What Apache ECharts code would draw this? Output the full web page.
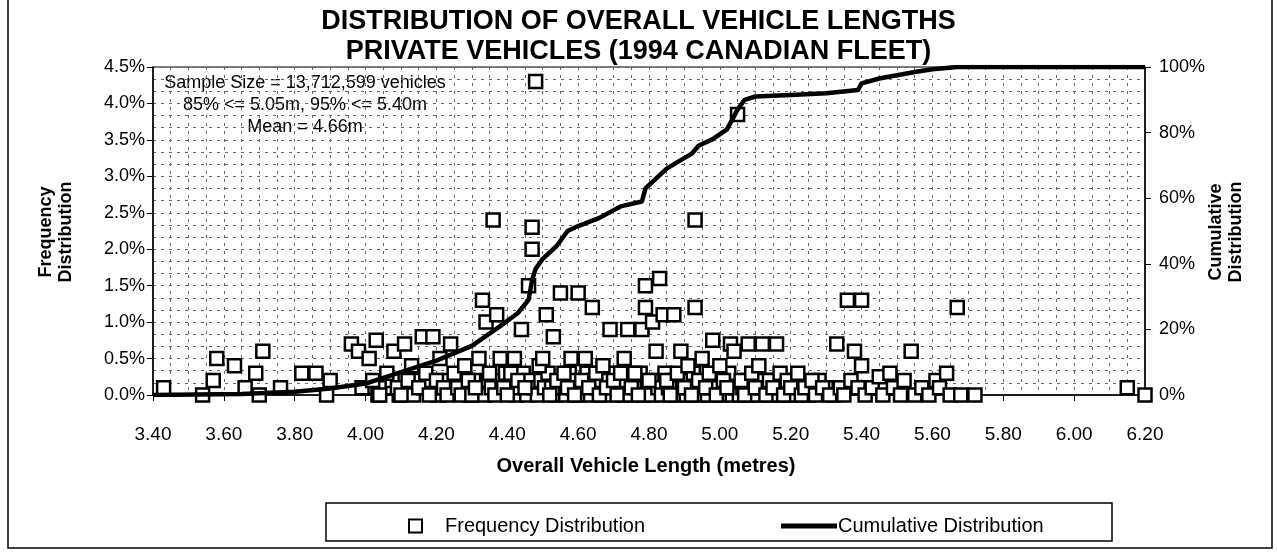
<!DOCTYPE html>
<html>
<head>
<meta charset="utf-8">
<script src="https://cdn.jsdelivr.net/npm/echarts@6/dist/echarts.min.js"></script>
<style>
  html, body { margin: 0; background: #fff; }
  #main { width: 1277px; height: 552px; }
</style>
</head>
<body>
<div id="main"></div>
<script>
// frequency distribution, [length (m), share of fleet (%)]
const freqLow = [
  [4.005, 0.1], [4.035, 0.0], [4.055, 0.1], [4.075, 0.2], [4.095, 0.0], [4.115, 0.1], [4.135, 0.0], [4.145, 0.2],
  [4.165, 0.1], [4.185, 0.2], [4.205, 0.0], [4.215, 0.1], [4.235, 0.2], [4.245, 0.1], [4.265, 0.2], [4.285, 0.1],
  [4.295, 0.0], [4.305, 0.2], [4.325, 0.1], [4.335, 0.0], [4.345, 0.2], [4.355, 0.1], [4.365, 0.0], [4.385, 0.2],
  [4.395, 0.3], [4.405, 0.1], [4.415, 0.2], [4.425, 0.0], [4.435, 0.1], [4.445, 0.3], [4.455, 0.0], [4.465, 0.2],
  [4.475, 0.1], [4.485, 0.0], [4.495, 0.2], [4.505, 0.1], [4.515, 0.3], [4.525, 0.1], [4.535, 0.0], [4.545, 0.1],
  [4.555, 0.2], [4.565, 0.0], [4.575, 0.3], [4.585, 0.1], [4.595, 0.2], [4.605, 0.0], [4.615, 0.1], [4.625, 0.3],
  [4.635, 0.0], [4.645, 0.2], [4.655, 0.1], [4.665, 0.2], [4.675, 0.0], [4.685, 0.2], [4.695, 0.1], [4.705, 0.3],
  [4.715, 0.1], [4.725, 0.0], [4.735, 0.2], [4.745, 0.0], [4.755, 0.2], [4.765, 0.1], [4.775, 0.3], [4.785, 0.0],
  [4.795, 0.1], [4.805, 0.0], [4.815, 0.2], [4.825, 0.1], [4.835, 0.0], [4.845, 0.3], [4.855, 0.1], [4.865, 0.2],
  [4.875, 0.0], [4.885, 0.1], [4.895, 0.2], [4.905, 0.0], [4.915, 0.1], [4.925, 0.3], [4.935, 0.1], [4.945, 0.0],
  [4.955, 0.2], [4.965, 0.0], [4.975, 0.1], [4.985, 0.2], [4.995, 0.1], [5.005, 0.0], [5.015, 0.1], [5.025, 0.3],
  [5.035, 0.0], [5.045, 0.1], [5.055, 0.0], [5.065, 0.1], [5.075, 0.2], [5.085, 0.0], [5.095, 0.2], [5.105, 0.0],
  [5.115, 0.1], [5.125, 0.2], [5.135, 0.1], [5.145, 0.0], [5.155, 0.2], [5.165, 0.0], [5.175, 0.1], [5.185, 0.2],
  [5.195, 0.0], [5.21, 0.0], [5.25, 0.0], [5.28, 0.2], [5.30, 0.1], [5.32, 0.0]
];

const freqUpper = [
  [3.43, 0.10], [3.54, 0.00], [3.57, 0.20], [3.58, 0.50], [3.63, 0.40], [3.66, 0.10], [3.69, 0.30], [3.70, 0.00],
  [3.71, 0.60], [3.76, 0.10], [3.82, 0.30], [3.86, 0.30], [3.89, 0.00], [3.90, 0.20], [3.96, 0.70], [3.98, 0.60],
  [3.99, 0.10], [4.01, 0.50], [4.02, 0.20], [4.03, 0.75], [4.04, 0.00], [4.06, 0.30], [4.08, 0.60], [4.09, 0.10],
  [4.10, 0.00], [4.11, 0.70], [4.12, 0.20], [4.13, 0.40], [4.15, 0.10], [4.16, 0.80], [4.17, 0.30], [4.18, 0.00],
  [4.19, 0.80], [4.20, 0.20], [4.21, 0.50], [4.22, 0.10], [4.23, 0.00], [4.24, 0.70], [4.25, 0.30], [4.26, 0.10],
  [4.27, 0.00], [4.28, 0.40], [4.29, 0.20], [4.30, 0.00], [4.31, 0.10], [4.32, 0.50], [4.33, 1.30], [4.34, 1.00],
  [4.35, 0.30], [4.36, 2.40], [4.37, 1.10], [4.38, 0.50], [4.39, 0.10], [4.40, 0.00], [4.41, 0.30], [4.42, 0.50],
  [4.43, 0.20], [4.44, 0.90], [4.45, 0.10], [4.46, 1.50], [4.47, 2.30], [4.47, 2.00], [4.48, 4.30], [4.49, 0.40],
  [4.50, 0.50], [4.51, 1.10], [4.52, 0.00], [4.53, 0.80], [4.54, 0.20], [4.55, 1.40], [4.56, 0.30], [4.57, 0.10],
  [4.58, 0.50], [4.59, 0.00], [4.60, 1.40], [4.61, 0.20], [4.62, 0.50], [4.63, 0.10], [4.64, 1.20], [4.65, 0.30],
  [4.66, 0.00], [4.67, 0.40], [4.68, 0.10], [4.69, 0.90], [4.70, 0.20], [4.71, 0.00], [4.72, 0.30], [4.73, 0.50],
  [4.74, 0.90], [4.75, 0.10], [4.76, 0.30], [4.77, 0.00], [4.78, 0.90], [4.79, 1.50], [4.79, 1.20], [4.80, 0.20],
  [4.81, 1.00], [4.82, 0.60], [4.83, 1.60], [4.84, 1.10], [4.85, 0.20], [4.86, 0.00], [4.87, 1.10], [4.88, 0.30],
  [4.89, 0.60], [4.90, 0.10], [4.91, 0.40], [4.92, 0.00], [4.93, 2.40], [4.93, 1.20], [4.94, 0.20], [4.95, 0.50],
  [4.96, 0.10], [4.97, 0.30], [4.98, 0.75], [4.99, 0.00], [5.00, 0.40], [5.01, 0.20], [5.02, 0.10], [5.03, 0.70],
  [5.04, 0.60], [5.05, 3.85], [5.06, 0.20], [5.07, 0.00], [5.08, 0.70], [5.09, 0.30], [5.10, 0.10], [5.11, 0.40],
  [5.12, 0.70], [5.13, 0.00], [5.14, 0.20], [5.15, 0.10], [5.16, 0.70], [5.17, 0.30], [5.18, 0.00], [5.19, 0.20],
  [5.20, 0.10], [5.22, 0.30], [5.23, 0.00], [5.24, 0.10], [5.26, 0.20], [5.27, 0.00], [5.29, 0.10], [5.31, 0.00],
  [5.33, 0.70], [5.34, 0.10], [5.35, 0.00], [5.36, 1.30], [5.37, 0.20], [5.38, 0.60], [5.39, 0.10], [5.40, 1.30],
  [5.40, 0.40], [5.41, 0.00], [5.43, 0.10], [5.45, 0.25], [5.46, 0.00], [5.48, 0.30], [5.49, 0.10], [5.51, 0.00],
  [5.52, 0.20], [5.54, 0.60], [5.55, 0.00], [5.57, 0.10], [5.59, 0.00], [5.61, 0.20], [5.62, 0.10], [5.64, 0.30],
  [5.65, 0.00], [5.67, 1.20], [5.68, 0.00], [5.72, 0.00], [6.15, 0.10], [6.20, 0.00]
];

// cumulative distribution
const cumLength = [3.40, 3.65, 3.80, 3.90, 4.00, 4.10, 4.20, 4.30, 4.38, 4.43, 4.46, 4.47, 4.48, 4.50, 4.54, 4.57,
  4.60, 4.66, 4.72, 4.78, 4.79, 4.85, 4.88, 4.92, 4.94, 4.98, 5.02, 5.05, 5.07, 5.10, 5.20, 5.30, 5.39, 5.40, 5.45,
  5.50, 5.55, 5.60, 5.67, 6.20];
const cumPct = [0, 0.3, 1, 2, 3.5, 7, 10.5, 15, 21, 25, 29, 35, 38.5, 41.5, 45.5, 50,
  51.5, 54, 57.5, 59, 63, 69, 71, 73.5, 76, 78, 81, 87, 90, 91, 91.5, 92, 93, 95, 96.5,
  97.5, 98.5, 99.3, 100, 100];

const noteLines = ['Sample Size = 13,712,599 vehicles', '85% <= 5.05m, 95% <= 5.40m', 'Mean = 4.66m'];

const chart = echarts.init(document.getElementById('main'));
const font = 'Liberation Sans, Arial, sans-serif';
const gridDash = { color: '#666', width: 1, type: [3, 5] };

const option = {
  animation: false,
  backgroundColor: '#fff',
  textStyle: { fontFamily: font, color: '#000' },
  title: {
    text: 'DISTRIBUTION OF OVERALL VEHICLE LENGTHS\nPRIVATE VEHICLES (1994 CANADIAN FLEET)',
    left: 'center',
    top: 2,
    textStyle: { fontSize: 27, fontWeight: 'bold', lineHeight: 30, color: '#000', fontFamily: font }
  },
  legend: [
    {
      data: ['Frequency Distribution'],
      left: 403, top: 511,
      itemWidth: 13, itemHeight: 13,
      textStyle: { fontSize: 20, color: '#000', padding: [0, 0, 0, 18] }
    },
    {
      data: [{ name: 'Cumulative Distribution', icon: 'rect' }],
      left: 776, top: 511,
      itemWidth: 56, itemHeight: 5, itemGap: 0,
      itemStyle: { color: '#000' },
      textStyle: { fontSize: 20, color: '#000', padding: [0, 0, 0, -4] }
    }
  ],
  grid: { left: 153, right: 132, top: 67, bottom: 157, show: true, borderColor: '#000', borderWidth: 1 },
  xAxis: {
    type: 'value', min: 3.4, max: 6.2, interval: 0.2,
    axisLine: { lineStyle: { color: '#000', width: 1.5 } },
    axisTick: { inside: false, length: 6, lineStyle: { color: '#000' } },
    axisLabel: { fontSize: 19, color: '#000', margin: 30, formatter: v => v.toFixed(2) },
    splitLine: { show: true, lineStyle: gridDash },
    minorTick: { show: false, splitNumber: 4 },
    minorSplitLine: { show: true, lineStyle: gridDash }
  },
  yAxis: [
    {
      type: 'value', min: 0, max: 4.5, interval: 0.5,
      axisLine: { show: true, lineStyle: { color: '#000', width: 1.5 } },
      axisTick: { show: true, length: 6, lineStyle: { color: '#000' } },
      axisLabel: { fontSize: 18, color: '#000', margin: 8, formatter: v => v.toFixed(1) + '%' },
      splitLine: { show: true, lineStyle: gridDash },
      minorTick: { show: false, splitNumber: 3 },
      minorSplitLine: { show: true, lineStyle: gridDash }
    },
    {
      type: 'value', min: 0, max: 100, interval: 20,
      axisLine: { show: true, lineStyle: { color: '#000', width: 1.5 } },
      axisTick: { show: true, length: 6, lineStyle: { color: '#000' } },
      axisLabel: { fontSize: 18, color: '#000', margin: 14, formatter: v => v + '%' },
      splitLine: { show: false }
    }
  ],
  series: [
    {
      name: 'Frequency Distribution',
      type: 'scatter',
      symbol: 'rect',
      symbolSize: 13,
      itemStyle: { color: '#fff', borderColor: '#000', borderWidth: 2.5, opacity: 1 },
      data: freqLow.concat(freqUpper),
      z: 2
    },
    {
      name: 'Cumulative Distribution',
      type: 'line',
      yAxisIndex: 1,
      showSymbol: false,
      symbol: 'none',
      lineStyle: { color: '#000', width: 4.5 },
      itemStyle: { color: '#000' },
      data: cumLength.map((x, i) => [x, cumPct[i]]),
      z: 3
    }
  ],
  graphic: [
    { type: 'rect', shape: { x: 8, y: -4, width: 1264, height: 552 }, style: { fill: 'none', stroke: '#000', lineWidth: 1.5 }, silent: true },
    { type: 'rect', shape: { x: 326, y: 503, width: 786, height: 38 }, style: { fill: 'none', stroke: '#000', lineWidth: 1.5 }, silent: true },
    {
      type: 'text', x: 305, y: 83,
      style: { text: noteLines[0], font: '18px ' + font, fill: '#000', textAlign: 'center', textVerticalAlign: 'middle' }
    },
    {
      type: 'text', x: 305, y: 105,
      style: { text: noteLines[1], font: '18px ' + font, fill: '#000', textAlign: 'center', textVerticalAlign: 'middle' }
    },
    {
      type: 'text', x: 305, y: 127,
      style: { text: noteLines[2], font: '18px ' + font, fill: '#000', textAlign: 'center', textVerticalAlign: 'middle' }
    },
    {
      type: 'text', x: 56, y: 232, rotation: Math.PI / 2,
      style: { text: 'Frequency\nDistribution', font: 'bold 18px ' + font, fill: '#000', textAlign: 'center', textVerticalAlign: 'middle', lineHeight: 20 }
    },
    {
      type: 'text', x: 1226, y: 232, rotation: Math.PI / 2,
      style: { text: 'Cumulative\nDistribution', font: 'bold 18px ' + font, fill: '#000', textAlign: 'center', textVerticalAlign: 'middle', lineHeight: 20 }
    },
    {
      type: 'text', x: 646, y: 466,
      style: { text: 'Overall Vehicle Length (metres)', font: 'bold 20px ' + font, fill: '#000', textAlign: 'center', textVerticalAlign: 'middle' }
    }
  ]
};

chart.setOption(option);
</script>
</body>
</html>
